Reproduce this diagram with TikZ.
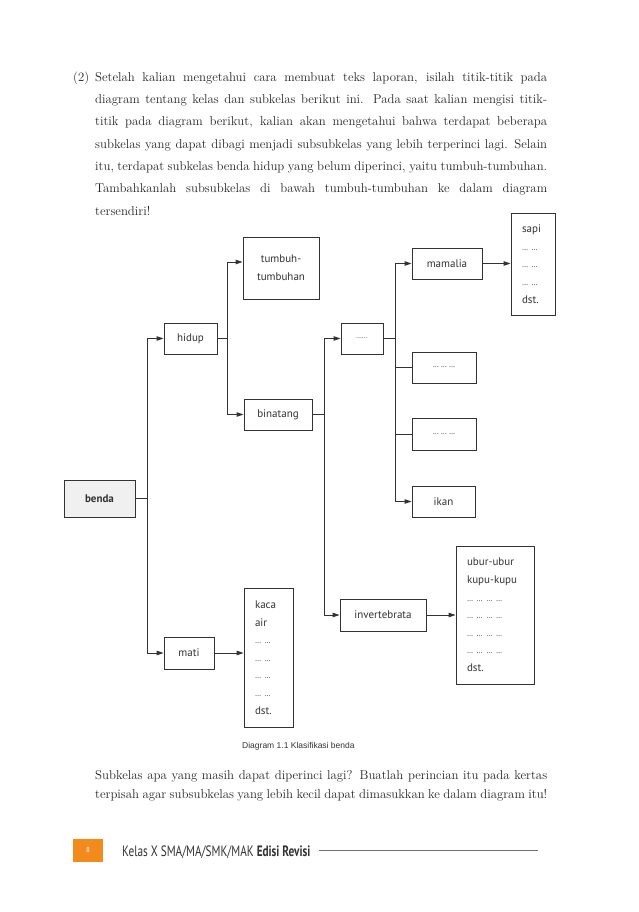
\documentclass[tikz,border=0pt]{standalone}
\usepackage{fontspec}
\usetikzlibrary{arrows.meta}
\newfontfamily\diag{PT Sans}
\newfontfamily\capfont{Liberation Sans}
\newfontfamily\footfont[FakeStretch=0.75]{PT Sans}
\definecolor{ink}{HTML}{333333}
\definecolor{pageorange}{HTML}{F28A1E}
\begin{document}
\begin{tikzpicture}[x=1pt,y=-1pt,
  box/.style={draw=ink, line width=0.9pt, inner sep=0pt, align=center, text=ink,
    font=\diag\fontsize{11}{17.6}\selectfont},
  listbox/.style={box, align=left},
  arr/.style={draw=ink, line width=0.9pt, -{Triangle[length=7pt,width=4.5pt]}},
  ln/.style={draw=ink, line width=0.9pt}]
\useasboundingbox[fill=white] (0,0) rectangle (638,912);
% body text
\node[anchor=north west, text width=474pt, inner sep=0pt, align=justify,
  font=\fontsize{12.8}{22.3}\selectfont, text=black!85] (body) at (73,71.5)
 {\tolerance=10000\pretolerance=-1\hyphenpenalty=10000\exhyphenpenalty=10000
 \spaceskip=.33em plus .5em minus .22em
 \hangindent=22pt\hangafter=1
 \makebox[22pt][l]{(2)}Setelah kalian mengetahui cara membuat teks laporan, isilah titik-titik pada\linebreak
 diagram tentang kelas dan subkelas berikut ini. Pada saat kalian mengisi titik-\linebreak
 titik pada diagram berikut, kalian akan mengetahui bahwa terdapat beberapa\linebreak
 subkelas yang dapat dibagi menjadi subsubkelas yang lebih terperinci lagi. Selain\linebreak
 itu,~terdapat subkelas benda hidup yang belum diperinci, yaitu tumbuh-tumbuhan.\linebreak
 Tambahkanlah subsubkelas di bawah tumbuh-tumbuhan ke dalam diagram\linebreak
 tersendiri!\par};
% diagram nodes
\node[box, minimum width=71pt, minimum height=37pt, fill=black!6] (benda) at (99.5,498.5) {\bfseries benda};
\node[box, minimum width=53pt, minimum height=31pt] (hidup) at (190.5,338.5) {hidup};
\node[box, minimum width=76pt, minimum height=62pt] (tumbuh) at (281,268) {tumbuh-\\tumbuhan};
\node[box, minimum width=68pt, minimum height=31pt] (binatang) at (278,414.5) {binatang};
\node[box, minimum width=42pt, minimum height=31pt] (dots) at (362,338.5) {{\fontsize{7}{8}\selectfont ......}};
\node[box, minimum width=70pt, minimum height=31pt] (mamalia) at (447,263.5) {mamalia};
\node[listbox, minimum width=44pt, minimum height=102pt, text width=22pt] (sapi) at (533,264)
 {sapi\\{\footnotesize … …}\\{\footnotesize … …}\\{\footnotesize … …}\\dst.};
\node[box, minimum width=64pt, minimum height=31pt] (dd) at (444,367.5) {{\footnotesize … … …}};
\node[box, minimum width=64pt, minimum height=32pt] (ddd) at (444,434) {{\footnotesize … … …}};
\node[box, minimum width=63pt, minimum height=31pt] (ikan) at (443.5,501.5) {ikan};
\node[box, minimum width=86pt, minimum height=32pt] (inv) at (383,615) {invertebrata};
\node[listbox, minimum width=78pt, minimum height=138pt, text width=56pt] (ubur) at (495,615)
 {ubur-ubur\\kupu-kupu\\{\footnotesize … … … …}\\{\footnotesize … … … …}\\{\footnotesize … … … …}\\{\footnotesize … … … …}\\dst.};
\node[box, minimum width=50pt, minimum height=32pt] (mati) at (189,653) {mati};
\node[listbox, minimum width=49pt, minimum height=139pt, text width=27pt] (kaca) at (268.5,657.5)
 {kaca\\air\\{\footnotesize … …}\\{\footnotesize … …}\\{\footnotesize … …}\\{\footnotesize … …}\\dst.};
% junction columns
\coordinate (jb) at (147,0);
\coordinate (jh) at (227,0);
\coordinate (jn) at (324,0);
\coordinate (jd) at (395,0);
% connectors
\draw[ln] (benda.east) -- (benda.east -| jb);
\draw[arr] (benda.east -| jb) |- (hidup.west);
\draw[arr] (benda.east -| jb) |- (mati.west);
\draw[ln] (hidup.east) -- (hidup.east -| jh);
\draw[arr] (hidup.east -| jh) |- ([yshift=6pt]tumbuh.west);
\draw[arr] (hidup.east -| jh) |- (binatang.west);
\draw[ln] (binatang.east) -- (binatang.east -| jn);
\draw[arr] (binatang.east -| jn) |- (dots.west);
\draw[arr] (binatang.east -| jn) |- (inv.west);
\draw[ln] (dots.east) -- (dots.east -| jd);
\draw[arr] (dots.east -| jd) |- (mamalia.west);
\draw[arr] (dots.east -| jd) |- (ikan.west);
\draw[ln] (dots.east -| jd) |- (dd.west);
\draw[ln] (dots.east -| jd) |- (ddd.west);
\draw[arr] (mamalia.east) -- (mamalia.east -| sapi.west);
\draw[arr] (inv.east) -- (inv.east -| ubur.west);
\draw[arr] (mati.east) -- (mati.east -| kaca.west);
% caption
\node[anchor=west, inner sep=0pt, text=ink, font=\capfont\fontsize{8.5}{10}\selectfont] (cap) at (242,746) {Diagram 1.1 Klasifikasi benda};
% closing text
\node[anchor=north west, text width=452pt, inner sep=0pt, align=justify,
  font=\fontsize{12.8}{19}\selectfont, text=black!85] (closing) at (95,770.5)
 {\tolerance=10000\pretolerance=-1\hyphenpenalty=10000\parfillskip=0pt
 \spaceskip=.33em plus .5em minus .22em
 Subkelas apa yang masih dapat diperinci lagi? Buatlah perincian itu pada kertas\linebreak
 terpisah agar subsubkelas yang lebih kecil dapat dimasukkan ke dalam diagram itu!\par};
% footer
\node[fill=pageorange, minimum width=30pt, minimum height=23pt, inner sep=0pt, text=white,
  font=\diag\fontsize{7}{8}\selectfont] (pg) at (88,850.5) {8};
\node[anchor=base west, inner sep=0pt, text=ink, font=\footfont\fontsize{15}{17}\selectfont] (foot) at (122,856.5)
 {Kelas X SMA/MA/SMK/MAK \textbf{Edisi Revisi}};
\coordinate (ls) at (319,850);
\coordinate (le) at (538,850);
\draw[black!55, line width=0.8pt] (ls) -- (le);
\end{tikzpicture}
\end{document}
